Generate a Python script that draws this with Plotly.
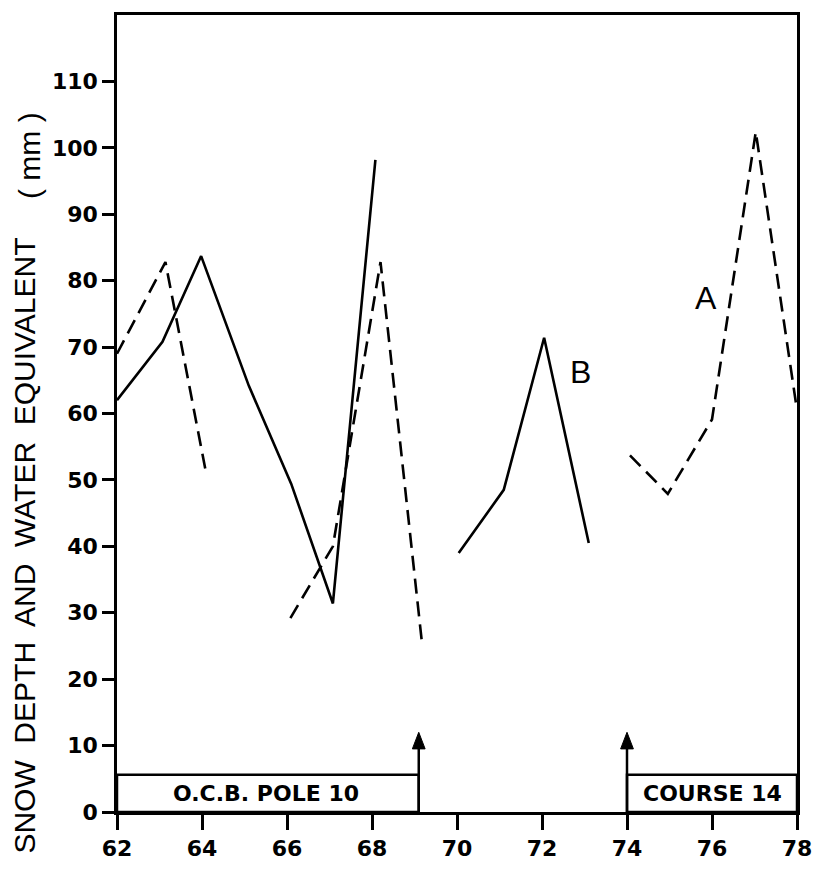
import plotly.graph_objects as go

# Data (None separates drawn segments)
curve_b_x = [62, 63.07, 63.98, 65.1, 66.1, 67.08, 68.08, None, 70.04, 71.1, 72.05, 73.1]
curve_b_y = [62.0, 70.8, 83.7, 64.2, 49.4, 31.4, 98.2, None, 39.0, 48.5, 71.4, 40.5]

curve_a_x = [62, 63.14, 64.1, None, 66.08, 67.08, 68.2, 69.18, None, 74.07, 74.96, 76.0, 77.03, 78.0]
curve_a_y = [69.0, 82.8, 50.9, None, 29.2, 40.0, 82.8, 25.2, None, 53.7, 47.9, 59.1, 102.4, 60.5]

x_ticks = [62, 64, 66, 68, 70, 72, 74, 76, 78]
y_ticks = [0, 10, 20, 30, 40, 50, 60, 70, 80, 90, 100, 110]

# Station periods (box extents) and change-over markers
pole_period = [62, 69.1]
course_period = [74.0, 78]
box_top = 5.6
changeover_x = [69.1, 74.0]

BLACK = "#000000"
NUM_FONT = dict(family="DejaVu Sans", size=22, color=BLACK, weight="bold")

fig = go.Figure()
fig.add_trace(go.Scatter(x=curve_b_x, y=curve_b_y, mode="lines",
                         line=dict(color=BLACK, width=2.6), connectgaps=False,
                         hoverinfo="skip", showlegend=False))
fig.add_trace(go.Scatter(x=curve_a_x, y=curve_a_y, mode="lines",
                         line=dict(color=BLACK, width=2.6, dash="15px,8px"), connectgaps=False,
                         hoverinfo="skip", showlegend=False))

shapes = []
for (x0, x1) in [pole_period, course_period]:
    shapes.append(dict(type="rect", xref="x", yref="y", x0=x0, x1=x1, y0=0, y1=box_top,
                       line=dict(color=BLACK, width=2.5)))
for xc in changeover_x:
    shapes.append(dict(type="line", xref="x", yref="y", x0=xc, x1=xc, y0=0, y1=10,
                       line=dict(color=BLACK, width=2.5)))
    shapes.append(dict(type="path", xref="x", yref="y",
                       path=f"M {xc-0.15},9.5 L {xc+0.15},9.5 L {xc},12.0 Z",
                       fillcolor=BLACK, line=dict(color=BLACK, width=1)))
fig.update_layout(shapes=shapes)

W, H = 824, 873
L, R, T, B = 117, 20, 12, 53
pw, ph = W - L - R, H - T - B

def px2paper(px, py):
    return (px - L) / pw, 1 - (py - T) / ph

tx, ty = px2paper(24, 550)
mx, my = px2paper(28, 154)

annotations = [
    dict(x=(pole_period[0] + pole_period[1]) / 2 - 0.05, y=box_top / 2, xref="x", yref="y",
         text="O.C.B. POLE 10", showarrow=False,
         font=dict(family="DejaVu Sans", size=22, color=BLACK, weight="bold")),
    dict(x=(course_period[0] + course_period[1]) / 2, y=box_top / 2, xref="x", yref="y",
         text="COURSE 14", showarrow=False,
         font=dict(family="DejaVu Sans", size=22, color=BLACK, weight="bold")),
    dict(x=75.87, y=77.4, xref="x", yref="y", text="A", showarrow=False,
         font=dict(family="Liberation Sans", size=32, color=BLACK)),
    dict(x=72.9, y=66.3, xref="x", yref="y", text="B", showarrow=False,
         font=dict(family="Liberation Sans", size=32, color=BLACK)),
    dict(x=tx, y=ty, xref="paper", yref="paper", xanchor="center", yanchor="middle",
         text="SNOW  DEPTH  AND  WATER  EQUIVALENT",
         showarrow=False, textangle=-90,
         font=dict(family="Liberation Sans", size=30, color=BLACK)),
    dict(x=mx, y=my, xref="paper", yref="paper", xanchor="center", yanchor="middle",
         text="( mm )", showarrow=False, textangle=-90,
         font=dict(family="Liberation Sans", size=30, color=BLACK)),
]
fig.update_layout(annotations=annotations)

fig.update_xaxes(range=[62, 78], tickvals=x_ticks, ticktext=[str(v) for v in x_ticks],
                 ticks="outside", ticklen=15, tickwidth=2.5, tickcolor=BLACK,
                 showline=True, linecolor=BLACK, linewidth=2.5, mirror=True,
                 showgrid=False, zeroline=False, tickfont=NUM_FONT)
fig.update_yaxes(range=[0, 120], tickvals=y_ticks, ticktext=[str(v) for v in y_ticks],
                 ticks="outside", ticklen=12, tickwidth=2.5, tickcolor=BLACK,
                 showline=True, linecolor=BLACK, linewidth=2.5, mirror=True,
                 showgrid=False, zeroline=False, tickfont=NUM_FONT)

fig.update_layout(width=W, height=H, margin=dict(l=L, r=R, t=T, b=B),
                  plot_bgcolor="white", paper_bgcolor="white")

fig.write_html("out.html")
